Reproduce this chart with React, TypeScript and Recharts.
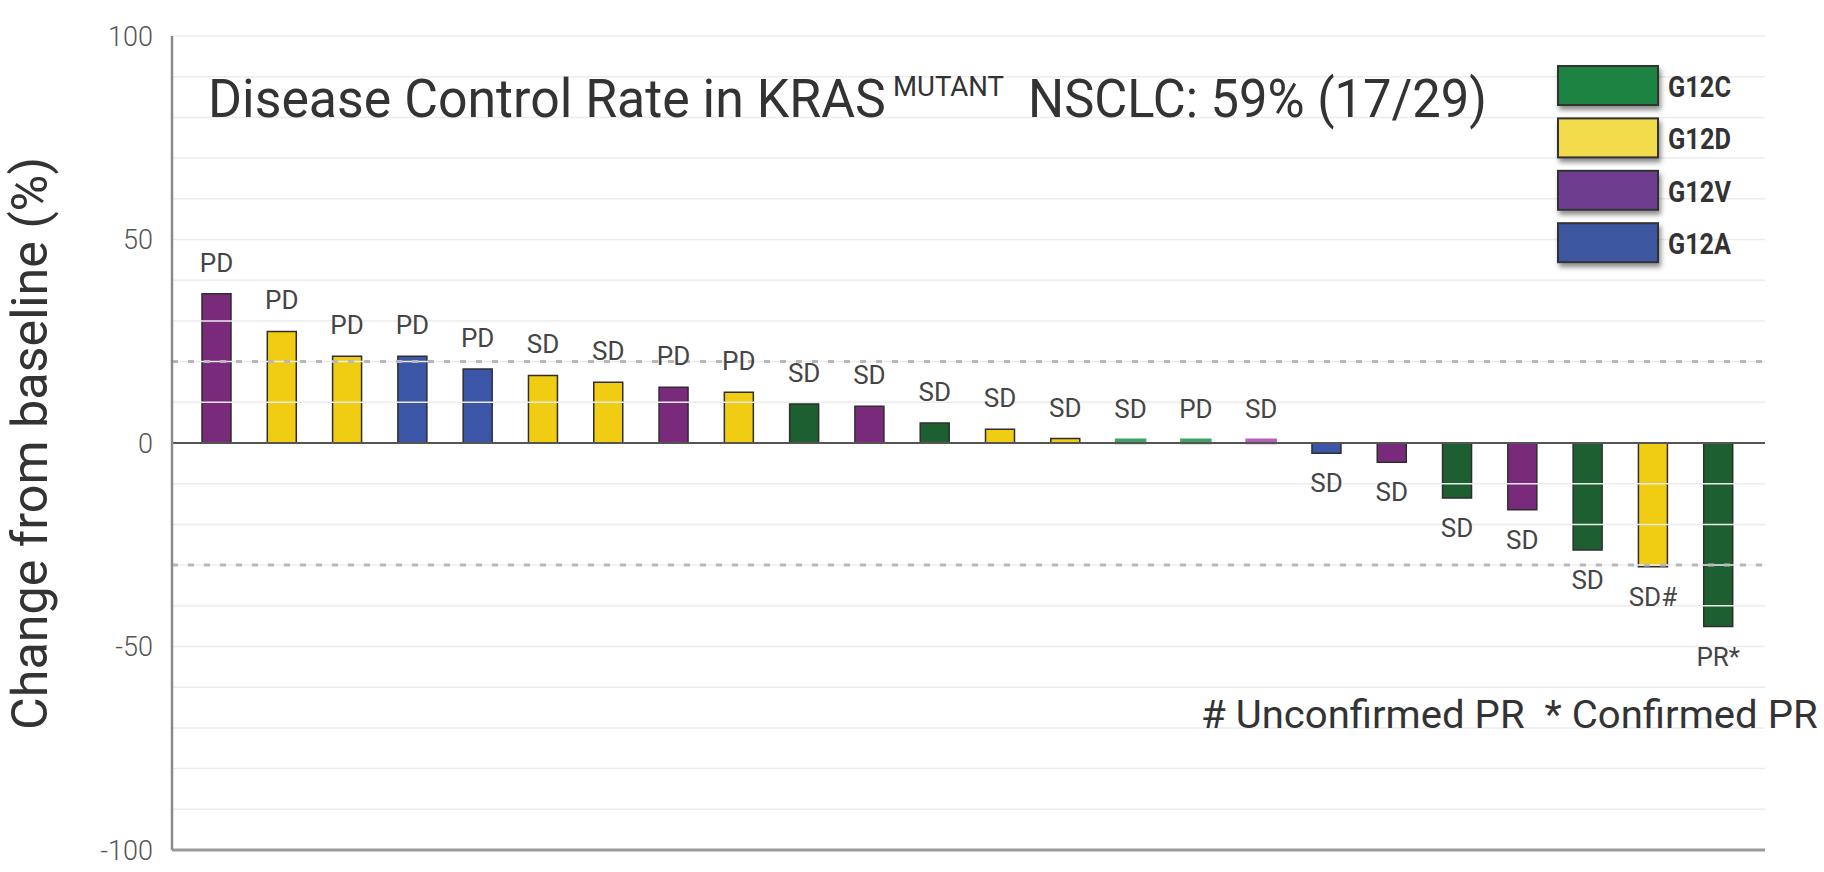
import React, { useLayoutEffect, useRef, useState } from 'react';
import { BarChart, Bar, XAxis, YAxis, Cell, LabelList, ReferenceLine } from 'recharts';

// ---- data ----
const patients = ['P01','P02','P03','P04','P05','P06','P07','P08','P09','P10','P11','P12','P13','P14','P15','P16','P17','P18','P19','P20','P21','P22','P23','P24'];
const changes = [36.7, 27.4, 21.3, 21.3, 18.2, 16.6, 14.9, 13.7, 12.5, 9.6, 9.0, 4.9, 3.4, 1.1, 0.8, 0.8, 0.8, -2.5, -4.7, -13.5, -16.4, -26.3, -30.4, -45.1];
const mutations = ['G12V','G12D','G12D','G12A','G12A','G12D','G12D','G12V','G12D','G12C','G12V','G12C','G12D','G12D','G12C','G12C','G12V','G12A','G12V','G12C','G12V','G12C','G12D','G12C'];
const responses = ['PD','PD','PD','PD','PD','SD','SD','PD','PD','SD','SD','SD','SD','SD','SD','PD','SD','SD','SD','SD','SD','SD','SD#','PR*'];
const yTicks = [-100, -50, 0, 50, 100];
const gridValues = [-90, -80, -70, -60, -50, -40, -30, -20, -10, 10, 20, 30, 40, 50, 60, 70, 80, 90, 100];
const thresholds = [20, -30];
const legendItems = ['G12C', 'G12D', 'G12V', 'G12A'];

// ---- styles ----
const barColors: Record<string, string> = { G12C: '#1e5f31', G12D: '#f0cc12', G12V: '#7a2a7a', G12A: '#3b56a6' };
const faintColors: Record<string, string> = { G12C: '#45a068', G12D: '#e8d878', G12V: '#b463b4', G12A: '#6a82c4' };
const legendColors: Record<string, string> = { G12C: '#1f8343', G12D: '#f2dc4c', G12V: '#6e3d8f', G12A: '#3c56a0' };

const data = patients.map((id, i) => ({ id, change: changes[i], mutation: mutations[i], response: responses[i] }));

const labelFont = 'Roboto, "Noto Sans", sans-serif';

function FitText(props: any) {
  const { x, y, width, rotate, anchor, children, ...rest } = props;
  const ref = useRef<SVGTextElement>(null);
  const [s, setS] = useState(1);
  useLayoutEffect(() => {
    if (ref.current) {
      const w = ref.current.getComputedTextLength();
      if (w > 0) setS(width / w);
    }
  }, [width]);
  const tr = `translate(${x} ${y})${rotate ? ` rotate(${rotate})` : ''} scale(${s} 1)`;
  return (
    <text ref={ref} x={0} y={0} transform={tr} textAnchor={anchor || 'start'} style={{ whiteSpace: 'pre' }} {...rest}>
      {children}
    </text>
  );
}

const renderLabel = (props: any) => {
  const { x, y, width, height, value } = props;
  let index = props.index;
  if (index === undefined || index === null) index = changes.indexOf(Number(value));
  const v = changes[index];
  const text = responses[index];
  const cx = Number(x) + Number(width) / 2;
  const top = Math.min(Number(y), Number(y) + Number(height));
  const bottom = Math.max(Number(y), Number(y) + Number(height));
  const ty = v >= 0 ? top - 22 : bottom + 39;
  return (
    <text x={cx} y={ty} textAnchor="middle" fontFamily={labelFont} fontSize={26} fill="#454545">
      {text}
    </text>
  );
};

export default function App() {
  return (
    <div style={{ position: 'absolute', left: 0, top: 0, width: 1824, height: 872, background: '#ffffff' }}>
      <BarChart
        width={1824}
        height={872}
        data={data}
        margin={{ top: 36, right: 59, bottom: 20, left: 52 }}
        barSize={29}
      >
        {gridValues.map((g) => (
          <ReferenceLine key={'g' + g} y={g} stroke="#ececec" strokeWidth={1.5} />
        ))}
        {thresholds.map((t) => (
          <ReferenceLine key={'t' + t} y={t} stroke="#b8b8b8" strokeWidth={3} strokeDasharray="6 10" />
        ))}
        <XAxis
          dataKey="id"
          tick={false}
          tickLine={false}
          height={2}
          axisLine={{ stroke: '#9a9a9a', strokeWidth: 3 }}
          padding={{ left: 12, right: 14 }}
        />
        <YAxis
          width={120}
          domain={[-100, 100]}
          ticks={yTicks}
          interval={0}
          tickLine={false}
          tickSize={0}
          tickMargin={19}
          axisLine={{ stroke: '#8a8a8a', strokeWidth: 2.5 }}
          tick={{ fontSize: 27, fill: '#555555', fontFamily: labelFont, fontWeight: 300 }}
          allowDataOverflow
        />
        <Bar dataKey="change" isAnimationActive={false}>
          {data.map((d) => {
            const faint = Math.abs(d.change) < 1;
            return (
              <Cell
                key={d.id}
                fill={faint ? faintColors[d.mutation] : barColors[d.mutation]}
                stroke={faint ? faintColors[d.mutation] : '#2e2e2e'}
                strokeWidth={faint ? 2.5 : 1.5}
              />
            );
          })}
          <LabelList dataKey="change" content={renderLabel} />
        </Bar>
        <ReferenceLine y={0} stroke="#555555" strokeWidth={2} />
      </BarChart>

      <svg
        width={1824}
        height={872}
        style={{ position: 'absolute', left: 0, top: 0, pointerEvents: 'none' }}
      >
        <defs>
          <filter id="legendShadow" x="-20%" y="-30%" width="150%" height="180%">
            <feDropShadow dx="2" dy="4" stdDeviation="2.5" floodColor="#000" floodOpacity="0.45" />
          </filter>
        </defs>

        {/* title */}
        <FitText x={208} y={117} width={678} fontFamily={labelFont} fontSize={54} fill="#333333">
          Disease Control Rate in KRAS
        </FitText>
        <FitText x={893} y={96} width={111} fontFamily={labelFont} fontSize={28} fill="#333333">
          MUTANT
        </FitText>
        <FitText x={1028} y={117} width={459} fontFamily={labelFont} fontSize={54} fill="#333333">
          NSCLC: 59% (17/29)
        </FitText>

        {/* y axis title */}
        <FitText x={47} y={443.5} rotate={-90} anchor="middle" width={573}
          fontFamily={labelFont} fontSize={50} fill="#333333">
          Change from baseline (%)
        </FitText>

        {/* footnote */}
        <FitText x={1201} y={728} width={617} fontFamily={labelFont} fontSize={39} fill="#333333">
          {'# Unconfirmed PR  * Confirmed PR'}
        </FitText>

        {/* legend */}
        {legendItems.map((m, i) => {
          const y0 = 66 + i * 52.4;
          return (
            <g key={m}>
              <rect x={1558} y={y0} width={100} height={39} fill={legendColors[m]} stroke="#333333"
                strokeWidth={2} filter="url(#legendShadow)" />
              <FitText x={1668} y={y0 + 31} width={63} fontFamily={labelFont} fontWeight={700} fontSize={29} fill="#333333">
                {m}
              </FitText>
            </g>
          );
        })}
      </svg>
    </div>
  );
}
